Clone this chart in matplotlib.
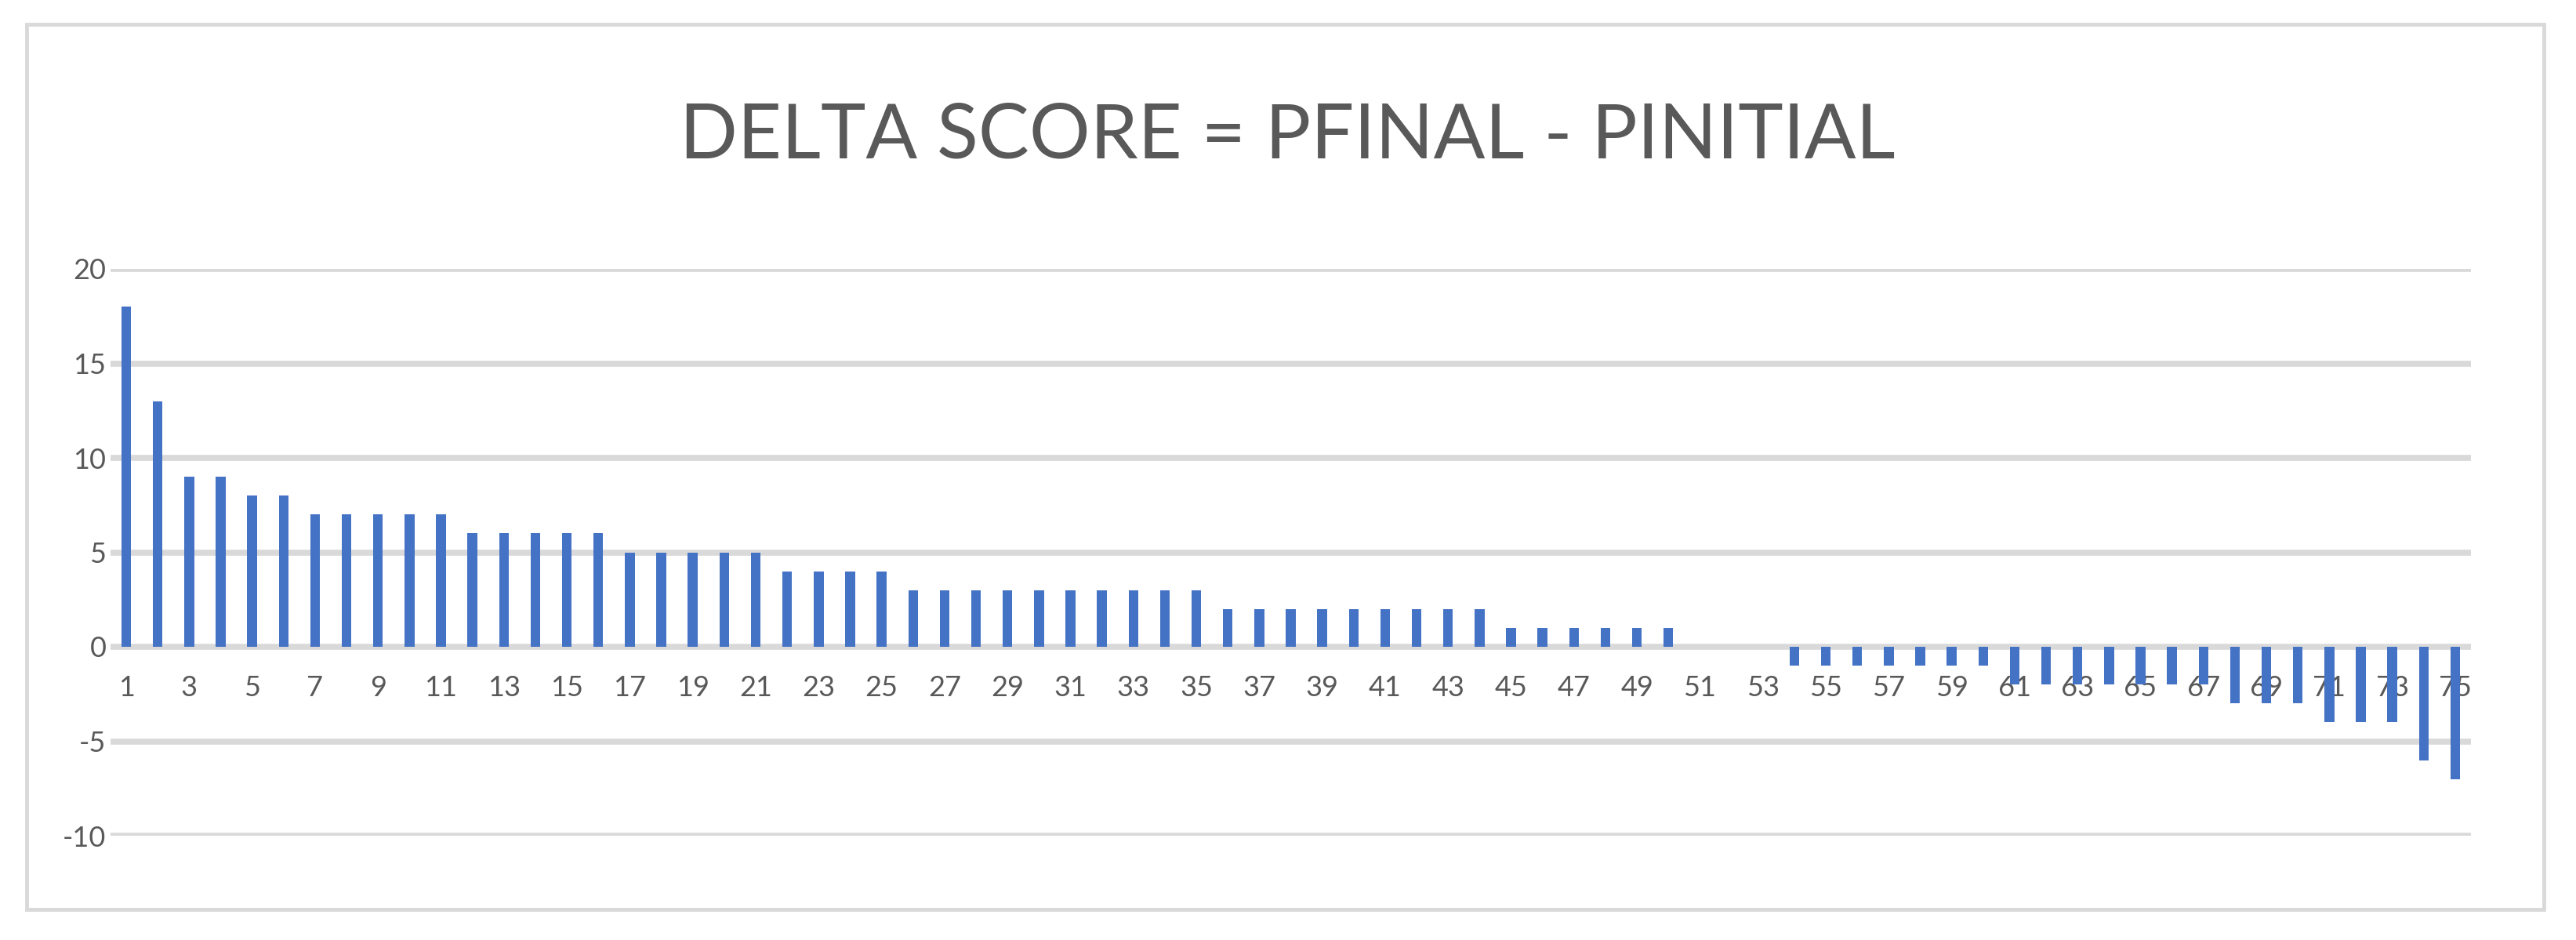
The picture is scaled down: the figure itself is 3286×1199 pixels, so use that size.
"""
Delta score bar chart (Pfinal - Pinitial) per participant.
"""

import numpy as np
import matplotlib
import matplotlib.pyplot as plt
from matplotlib.patches import Rectangle

matplotlib.use("Agg")

# participant index 1..75, sorted by delta
participants = list(range(1, 76))
delta_score = (
    [18, 13, 9, 9, 8, 8]
    + [7] * 5
    + [6] * 5
    + [5] * 5
    + [4] * 4
    + [3] * 10
    + [2] * 9
    + [1] * 6
    + [0] * 3
    + [-1] * 7
    + [-2] * 7
    + [-3] * 3
    + [-4] * 3
    + [-6, -7]
)
y_ticks = [-10, -5, 0, 5, 10, 15, 20]
title = "DELTA SCORE = PFINAL - PINITIAL"

BAR_COLOR = "#4472C4"
GRID_COLOR = "#D9D9D9"
TEXT_COLOR = "#595959"

plt.rcParams["font.family"] = ["Lato", "DejaVu Sans"]
plt.rcParams["axes.unicode_minus"] = False

fig = plt.figure(figsize=(32.87, 11.99), dpi=100)

# chart border
fig.patches.append(Rectangle((34 / 3287, 1 - 1160 / 1199), (3245 - 34) / 3287,
                             (1160 - 31) / 1199, transform=fig.transFigure,
                             fill=False, edgecolor=GRID_COLOR, linewidth=3.5))

ax = fig.add_axes([141 / 3287, 1 - 1066 / 1199, (3152 - 141) / 3287,
                   (1066 - 343) / 1199])

ax.bar(participants, delta_score, width=0.31, color=BAR_COLOR, zorder=3)

ax.set_xlim(0.5, 75.5)
ax.set_ylim(-10, 20)
ax.set_yticks(y_ticks)
ax.yaxis.grid(True, color=GRID_COLOR, linewidth=5.5, zorder=0)

ax.set_xticks(participants[::2])
ax.spines["bottom"].set_position(("data", 0))
for s in ax.spines.values():
    s.set_visible(False)

ax.tick_params(axis="x", length=0, pad=26, labelsize=26, labelcolor=TEXT_COLOR)
ax.tick_params(axis="y", length=0, pad=4, labelsize=26, labelcolor=TEXT_COLOR)
for lab in ax.get_xticklabels():
    lab.set_zorder(4)

fig.text(0.4995, 1 - 174 / 1199, title, ha="center", va="center",
         fontsize=70, color=TEXT_COLOR)

plt.savefig("out.png", dpi=100)
plt.close()
